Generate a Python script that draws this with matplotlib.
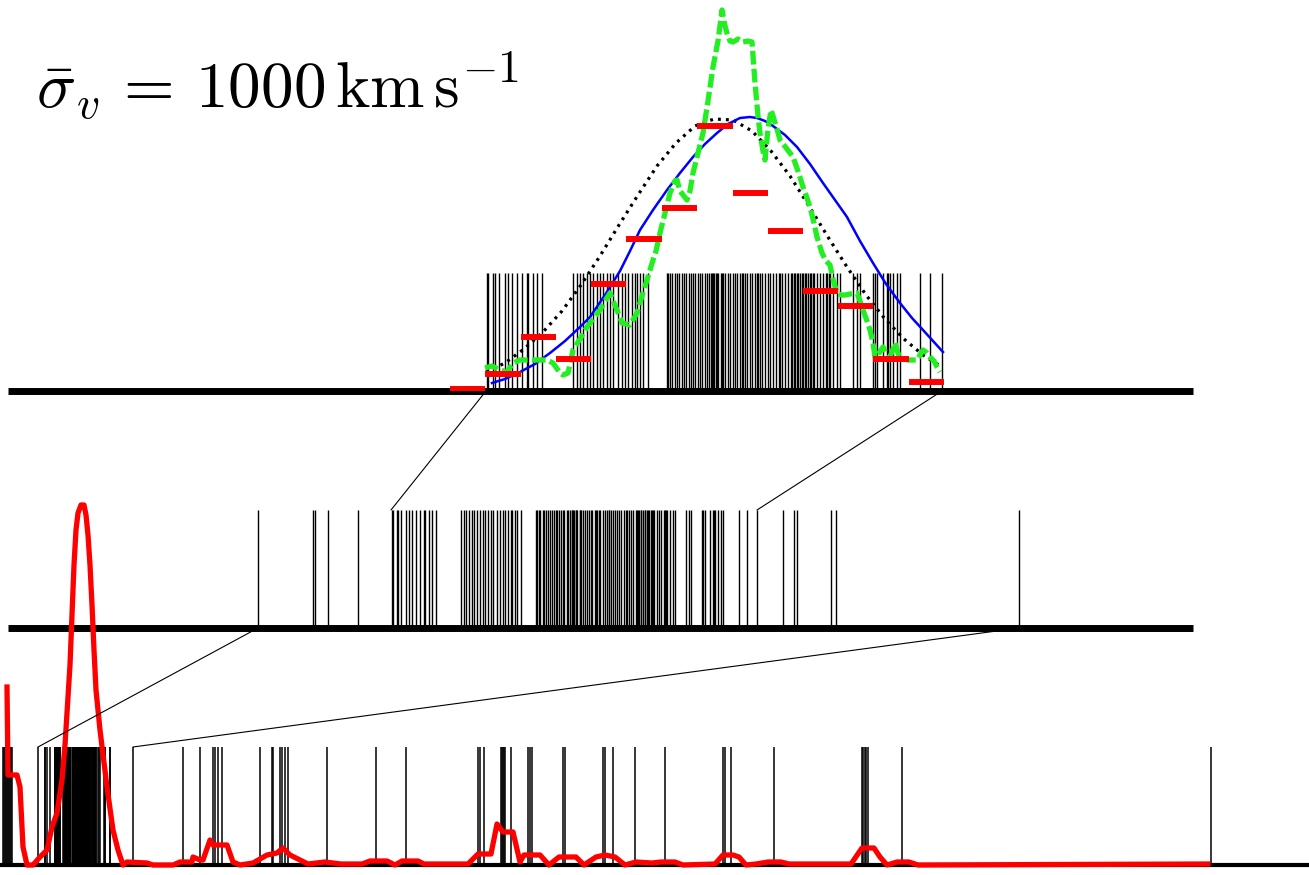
import matplotlib
matplotlib.use("Agg")
import matplotlib.pyplot as plt
from matplotlib.patches import ConnectionPatch

plt.rcParams['mathtext.fontset'] = 'cm'

# ---------------- data (positions) ----------------
# cluster members, in top-panel position units
cluster_x = [487, 488, 493, 495, 499, 505, 508, 512, 517, 522, 527, 528, 533, 537, 542,
             573, 577, 580, 583, 587, 590, 593, 597, 600, 603, 607, 610, 613, 618, 622,
             625, 628, 632, 635, 637, 640, 643, 648,
             667, 668, 670, 672, 675, 677, 679, 682, 684, 686, 689, 691, 693, 695, 698,
             700, 702, 705, 707, 709, 711, 712, 713, 714, 716, 717, 718, 721, 722, 723,
             725, 728, 730, 733, 735, 737, 740, 742, 743, 745, 747, 750, 752, 755, 757,
             758, 760, 762, 765, 768, 770, 773, 776, 779, 780, 782, 785, 788, 791, 792,
             794, 795, 797, 798, 800, 802, 803, 805, 806, 808, 810, 811, 813, 814, 817,
             820, 823, 826, 827, 829, 830, 833, 837, 840,
             853, 857, 860, 873, 875, 877, 883, 887, 888, 890, 893, 897, 900, 920, 930, 942]
# surrounding group galaxies, in middle-panel units
group_x = [258, 313, 315, 328, 358, 783, 794, 797, 831, 836, 1019]
# field galaxies, in bottom-panel units
field_x = [3, 4, 5, 6, 7, 8, 9, 10, 11, 12, 183, 200, 213, 215, 218, 222, 260, 272,
           273, 280, 282, 285, 288, 327, 376, 406, 478, 480, 484, 501, 502, 503, 504,
           505, 511, 528, 530, 532, 563, 565, 603, 605, 613, 635, 665, 723, 725, 731,
           774, 862, 863, 865, 866, 868, 902, 1211]

# zoom windows: top-panel span <-> middle window, middle span <-> bottom window
top_span = [486, 942]
top_window = [391, 757]
mid_span = [258, 1019]
mid_window = [38, 133]

# top panel: model gaussian (dotted), smoothed estimate (blue), raw estimate (green)
gauss_x = [486, 505, 524, 543, 562, 581, 600, 619, 638, 657, 676, 695, 714, 733, 752,
           771, 790, 809, 828, 847, 866, 885, 904, 923, 942]
gauss_y = [19, 28, 42, 59, 80, 106, 135, 166, 196, 225, 248, 265, 272, 271, 260,
           240, 215, 185, 154, 124, 96, 72, 52, 36, 24]

blue_x = [492, 505, 520, 535, 550, 565, 580, 590, 605, 620, 630, 640, 653, 667, 680,
          693, 705, 717, 728, 740, 750, 757, 765, 773, 785, 797, 810, 823, 835, 847,
          860, 873, 886, 900, 912, 923, 933, 943]
blue_y = [8, 12, 19, 27, 38, 50, 64, 74, 96, 120, 140, 161, 181, 201, 218,
          234, 247, 258, 267, 273, 274, 273, 270, 265, 256, 244, 227, 208, 191, 174,
          150, 128, 107, 88, 73, 61, 50, 39]

green_x = [485, 492, 500, 507, 513, 520, 530, 540, 547, 553, 560, 563, 568, 573, 580,
           587, 593, 600, 605, 610, 614, 617, 622, 630, 637, 642, 647, 653, 656, 660,
           665, 670, 675, 677, 680, 687, 690, 693, 698, 703, 708, 713, 718, 722, 725,
           727, 730, 733, 738, 743, 748, 752, 755, 758, 760, 763, 765, 768, 771, 773,
           777, 780, 787, 793, 798, 803, 807, 810, 814, 817, 822, 826, 830, 833, 837,
           841, 845, 850, 857, 860, 863, 867, 870, 873, 875, 879, 883, 886, 890, 893,
           895, 898, 900, 908, 917, 920, 923, 927, 930, 934, 937, 940]
green_y = [23, 25, 21, 19, 28, 31, 31, 31, 31, 28, 18, 16, 18, 41, 52,
           64, 72, 81, 90, 98, 88, 81, 68, 66, 78, 95, 111, 131, 140, 158,
           178, 198, 210, 211, 200, 191, 200, 218, 238, 258, 290, 324, 350, 381, 365,
           358, 350, 349, 352, 349, 350, 349, 308, 275, 258, 240, 231, 262, 281, 275,
           262, 251, 242, 234, 220, 204, 193, 184, 168, 154, 138, 130, 126, 112, 98,
           96, 96, 97, 98, 90, 81, 70, 61, 48, 34, 38, 44, 38, 34, 42,
           48, 38, 33, 31, 31, 36, 41, 38, 34, 30, 24, 19]

# histogram of cluster velocities
hist_edges = [450, 485, 521, 556, 591, 626, 662, 697, 733, 768, 803, 838, 873, 909, 944]
hist_vals = [2, 17, 54, 32, 107, 152, 183, 265, 198, 160, 100, 85, 32, 9]

# bottom panel: density along the line of sight
dens_x = [7, 8, 17, 20, 23, 27, 33, 40, 47, 52, 57, 62, 65, 67, 70, 72, 74, 76, 78, 81,
          84, 86, 88, 90, 92, 94, 96, 100, 107, 113, 118, 123, 127, 147, 153, 173, 180,
          192, 193, 200, 203, 210, 213, 227, 233, 240, 253, 267, 277, 283, 290, 300,
          308, 325, 341, 362, 370, 387, 395, 402, 418, 424, 468, 478, 491, 497, 503,
          513, 520, 524, 540, 549, 559, 576, 584, 596, 605, 615, 625, 636, 652, 661,
          675, 683, 715, 723, 733, 739, 746, 756, 768, 781, 789, 851, 862, 874, 880,
          887, 897, 909, 918, 1208]
dens_y = [178, 90, 90, 78, 18, 0, 0, 8, 15, 38, 52, 85, 120, 152, 200, 250, 300, 335,
          352, 360, 360, 350, 330, 300, 260, 215, 175, 135, 78, 35, 15, 0, 3, 2, 0, 0,
          3, 3, 8, 5, 5, 25, 20, 20, 3, 0, 2, 10, 12, 17, 10, 5, 1, 3, 1, 1, 4, 4, 0,
          4, 4, 1, 1, 11, 11, 41, 33, 33, 3, 10, 10, 0, 8, 8, 0, 8, 10, 8, 0, 3, 2,
          3, 3, 0, 1, 10, 10, 8, 0, 1, 3, 3, 1, 1, 17, 17, 8, 0, 3, 3, 0, 1]

label = r'$\bar{\sigma}_v\,=\,1000\,\mathrm{km\,s^{-1}}$'

# ---------------- layout ----------------
W, H = 1309, 875
RUG_H = 118


def map_window(vals, span, window):
    s = (window[1] - window[0]) / (span[1] - span[0])
    return [window[0] + (v - span[0]) * s for v in vals]


mid_from_cluster = map_window(cluster_x, top_span, top_window)
mid_all = group_x + mid_from_cluster
bot_all = field_x + map_window(mid_all, mid_span, mid_window)

fig = plt.figure(figsize=(W / 100, H / 100), dpi=100)


def panel(base, bounds, spine_lw):
    ax = fig.add_axes([0, (H - base) / H, 1, base / H])
    ax.set_xlim(0, W)
    ax.set_ylim(0, base)
    ax.patch.set_visible(False)
    for s in ('top', 'left', 'right'):
        ax.spines[s].set_visible(False)
    ax.spines['bottom'].set_linewidth(spine_lw)
    ax.spines['bottom'].set_bounds(*bounds)
    ax.spines['bottom'].set_capstyle('butt')
    ax.set_xticks([])
    ax.set_yticks([])
    return ax


ax_top = panel(391, (8, 1193), 5.0)
ax_mid = panel(628, (8, 1193), 5.0)
ax_bot = panel(865, (0, 1309), 3.0)

ax_top.vlines(cluster_x, 0, RUG_H, color='k', lw=1.0)
ax_mid.vlines(mid_all, 0, RUG_H, color='k', lw=1.0)
ax_bot.vlines(bot_all, 0, RUG_H, color='k', lw=1.1)

ax_top.plot(gauss_x, gauss_y, color='k', lw=2.3, linestyle=(0, (0.9, 1.6)),
            zorder=3, clip_on=False)
ax_top.plot(blue_x, blue_y, color='#0000ff', lw=1.8, zorder=3, clip_on=False)
ax_top.plot(green_x, green_y, color='#22ee22', lw=3.8, linestyle=(0, (2.6, 0.8)),
            zorder=3, clip_on=False)
ax_top.hlines(hist_vals, hist_edges[:-1], hist_edges[1:], color='#ff0000', lw=4.3,
              zorder=4)

ax_bot.plot(dens_x, dens_y, color='#ff0000', lw=3.8, zorder=3, clip_on=False)

for xa, xb in zip(top_span, top_window):
    fig.add_artist(ConnectionPatch(xyA=(xa, 0), coordsA=ax_top.transData,
                                   xyB=(xb, RUG_H), coordsB=ax_mid.transData,
                                   color='k', lw=0.8))
for xa, xb in zip(mid_span, mid_window):
    fig.add_artist(ConnectionPatch(xyA=(xa, 0), coordsA=ax_mid.transData,
                                   xyB=(xb, RUG_H), coordsB=ax_bot.transData,
                                   color='k', lw=0.8))

fig.text(36 / W, 1 - 108 / H, label, fontsize=47, ha='left', va='baseline')

fig.savefig('out.png', dpi=100)
